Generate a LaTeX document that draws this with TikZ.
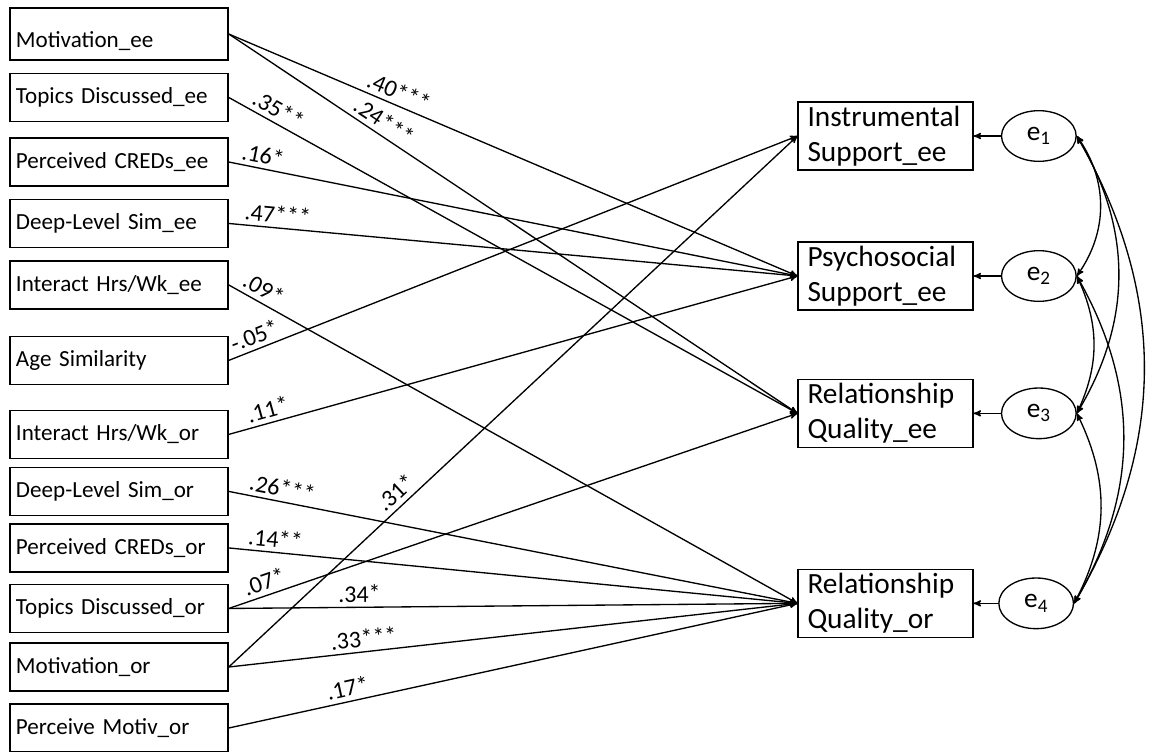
\documentclass[tikz,border=0pt]{standalone}
\usepackage{fontspec}
\setmainfont{Carlito}
\usepackage{tikz}
\usetikzlibrary{
        arrows,
        positioning,
        shapes.geometric
    }
\tikzset{>=stealth',node distance=2cm}
\tikzset{
    obsvar/.style={draw,rectangle,line width=1.1pt,minimum height=36pt,
        text width=154.5pt,inner xsep=4.5pt,align=left,
        font=\fontsize{17.3}{20}\selectfont},
    outvar/.style={draw,rectangle,line width=1.1pt,minimum height=51pt,
        text width=117pt,inner xsep=7pt,inner ysep=1pt,align=left,
        font=\fontsize{22}{26}\selectfont},
    errvar/.style={draw,ellipse,line width=1pt,minimum width=56pt,
        minimum height=38pt,inner sep=0pt,font=\fontsize{20.5}{24}\selectfont},
    coef/.style={sloped,above,font=\fontsize{18}{21}\selectfont}
}

\begin{document}
\begin{tikzpicture}[x=0.75pt,y=-0.75pt,line width=1pt]
                    \useasboundingbox (0,0) rectangle (1150,751);

                    % predictors
                    \node[obsvar,minimum height=39pt] (motee) at (119,34) {\raisebox{-5pt}[\height][\depth]{Motivation\_ee}};
                    \node[obsvar] (topee) [below of=motee,node distance=47.6pt] {Topics Discussed\_ee};
                    \node[obsvar] (crdee) [below of=topee,node distance=48.4pt] {Perceived CREDs\_ee};
                    \node[obsvar] (dlsee) [below of=crdee,node distance=46.1pt] {Deep-Level Sim\_ee};
                    \node[obsvar] (ihwee) [below of=dlsee,node distance=46.1pt] {Interact Hrs/Wk\_ee};
                    \node[obsvar] (agesim) [below of=ihwee,node distance=56.6pt] {Age Similarity};
                    \node[obsvar] (ihwor) [below of=agesim,node distance=55.5pt] {Interact Hrs/Wk\_or};
                    \node[obsvar] (dlsor) [below of=ihwor,node distance=42.75pt] {Deep-Level Sim\_or};
                    \node[obsvar] (crdor) [below of=dlsor,node distance=42.4pt] {Perceived CREDs\_or};
                    \node[obsvar] (topor) [below of=crdor,node distance=45.4pt] {Topics Discussed\_or};
                    \node[obsvar] (motor) [below of=topor,node distance=43.9pt] {Motivation\_or};
                    \node[obsvar] (pmor) [below of=motor,node distance=45.75pt] {Perceive Motiv\_or};

                    % outcomes and errors
                    \node[outvar] (ins) at (885.5,136) {Instrumental\\Support\_ee};
                    \node[outvar] (psy) [below of=ins,node distance=105pt] {Psychosocial\\Support\_ee};
                    \node[outvar] (rqee) [below of=psy,node distance=103pt] {Relationship\\Quality\_ee};
                    \node[outvar] (rqor) [below of=rqee,node distance=142.5pt] {Relationship\\Quality\_or};
                    \node[errvar] (e1) [right of=ins,node distance=115pt] {e\textsubscript{1}};
                    \node[errvar] (e2) [right of=psy,node distance=115pt] {e\textsubscript{2}};
                    \node[errvar] (e3) [right of=rqee,node distance=115pt] {e\textsubscript{3}};
                    \node[errvar] (e4) [right of=rqor,node distance=113pt] {e\textsubscript{4}};

                    \path[->]
                            (motee.east) edge node[coef,pos=.29] {.40***} (psy.west)
                            (motee.east) edge node[coef,pos=.26] {.24***} (rqee.west)
                            (topee.east) edge node[coef,pos=.076] {.35**} (rqee.west)
                            (crdee.east) edge node[coef,pos=.056] {.16*} (psy.west)
                            (dlsee.east) edge node[coef,pos=.084] {.47***} (psy.west)
                            (ihwee.east) edge node[coef,pos=.05] {.09*} (rqor.west)
                            (agesim.east) edge node[coef,pos=.054] {-.05*} (ins.west)
                            (ihwor.east) edge node[coef,pos=.075] {.11*} (psy.west)
                            (dlsor.east) edge node[coef,pos=.09] {.26***} (rqor.west)
                            (crdor.east) edge node[coef,pos=.08] {.14**} (rqor.west)
                            (topor.east) edge node[coef,pos=.07] {.07*} (rqee.west)
                            (topor.east) edge node[coef,pos=.23] {.34*} (rqor.west)
                            (motor.east) edge node[coef,pos=.31] {.31*} (ins.west)
                            (motor.east) edge node[coef,pos=.24] {.33***} (rqor.west)
                            (pmor.east) edge node[coef,pos=.214] {.17*} (rqor.west)
                            ;
                    \path[->]
                            (e1) edge (ins)
                            (e2) edge (psy)
                            (e3) edge (rqee)
                            (e4) edge (rqor)
                            ;
                    % correlated errors
                    \path[<->]
                            (e1.east) edge[bend left=35] (e2.east)
                            (e1.east) edge[bend left=31] (e3.east)
                            (e1.east) edge[bend left=30] (e4.east)
                            (e2.east) edge[bend left=25] (e3.east)
                            (e2.east) edge[bend left=30] (e4.east)
                            (e3.east) edge[bend left=27] (e4.east)
                            ;
\end{tikzpicture}
\end{document}
